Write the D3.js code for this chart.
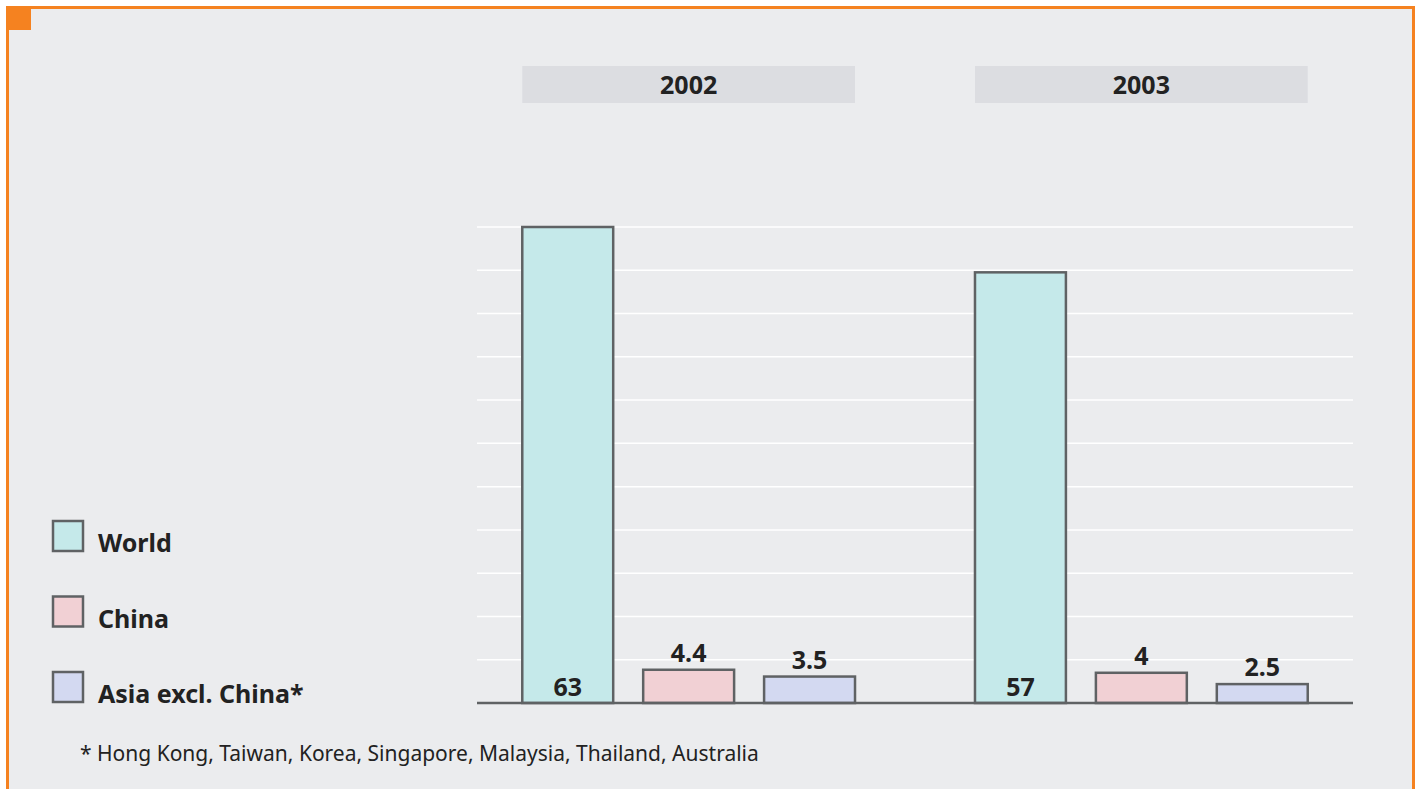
<!DOCTYPE html>
<html>
<head>
<meta charset="utf-8">
<title>World, China, Asia</title>
<script src="https://cdn.jsdelivr.net/npm/d3@7"></script>
<style>
    body { margin: 0; background: #ffffff; font-family: "Noto Sans", sans-serif; }
    .label { font-size: 25px; font-weight: bold; fill: #222222; }
    .note { font-size: 21px; fill: #222222; }
</style>
</head>
<body>
<div id="chart"></div>
<script>
var years = ['2002', '2003'];
var series = ['World', 'China', 'Asia excl. China*'];
var world = [63, 57];
var china = [4.4, 4];
var asia = [3.5, 2.5];
var footnote = '* Hong Kong, Taiwan, Korea, Singapore, Malaysia, Thailand, Australia';

var colors = {'World': '#c5e9ea', 'China': '#f1d0d4', 'Asia excl. China*': '#d3d9f1'};
var width = 1422, height = 789;

var rows = [];
years.forEach(function(y, i) {
    rows.push({year: y, key: 'World', value: world[i]});
    rows.push({year: y, key: 'China', value: china[i]});
    rows.push({year: y, key: 'Asia excl. China*', value: asia[i]});
});

var svg = d3.select('#chart').append('svg')
    .attr('width', width).attr('height', height);

// panel + orange frame (open at the bottom)
svg.append('rect').attr('x', 7).attr('y', 7).attr('width', 1407).attr('height', height)
    .attr('fill', '#ebecee');
svg.append('path')
    .attr('d', 'M7.5,' + height + 'V7.5H1413.5V' + height)
    .attr('fill', 'none').attr('stroke', '#f58220').attr('stroke-width', 3);
svg.append('rect').attr('x', 6).attr('y', 6).attr('width', 25).attr('height', 24)
    .attr('fill', '#f58220');

var x0 = d3.scaleBand().domain(years).range([477, 1353])
    .paddingInner(0.265).paddingOuter(0.1);
var x1 = d3.scaleBand().domain(series).range([0, x0.bandwidth()])
    .paddingInner(0.248);
var y = d3.scaleLinear().domain([0, 63]).range([703, 227]);

// gridlines
var gridCount = 11;
svg.append('g').selectAll('line')
    .data(d3.range(1, gridCount + 1))
    .enter().append('line')
    .attr('x1', 477).attr('x2', 1353)
    .attr('y1', function(d) { return y(63 * d / gridCount); })
    .attr('y2', function(d) { return y(63 * d / gridCount); })
    .attr('stroke', '#ffffff').attr('stroke-width', 1.5);

// year headers
var head = svg.append('g').selectAll('g').data(years).enter().append('g');
head.append('rect')
    .attr('x', function(d) { return x0(d); })
    .attr('y', 66).attr('width', x0.bandwidth()).attr('height', 37)
    .attr('fill', '#dcdde1');
head.append('text').attr('class', 'label')
    .attr('x', function(d) { return x0(d) + x0.bandwidth() / 2; })
    .attr('y', 94).attr('text-anchor', 'middle')
    .text(function(d) { return d; });

// bars
svg.append('g').selectAll('rect').data(rows).enter().append('rect')
    .attr('x', function(d) { return x0(d.year) + x1(d.key); })
    .attr('y', function(d) { return y(d.value); })
    .attr('width', x1.bandwidth())
    .attr('height', function(d) { return y(0) - y(d.value); })
    .attr('fill', function(d) { return colors[d.key]; })
    .attr('stroke', '#5f6264').attr('stroke-width', 2.5);

svg.append('g').selectAll('text').data(rows).enter().append('text')
    .attr('class', 'label').attr('text-anchor', 'middle')
    .attr('x', function(d) { return x0(d.year) + x1(d.key) + x1.bandwidth() / 2; })
    .attr('y', function(d) { return d.key == 'World' ? y(0) - 7 : y(d.value) - 8; })
    .text(function(d) { return d.value; });

// baseline
svg.append('line').attr('x1', 477).attr('x2', 1353)
    .attr('y1', y(0)).attr('y2', y(0))
    .attr('stroke', '#5f6264').attr('stroke-width', 2.5);

// legend
var legend = svg.append('g').selectAll('g').data(series).enter().append('g')
    .attr('transform', function(d, i) { return 'translate(53,' + (521 + i * 75.5) + ')'; });
legend.append('rect').attr('width', 30).attr('height', 30)
    .attr('fill', function(d) { return colors[d]; })
    .attr('stroke', '#5f6264').attr('stroke-width', 2.5);
legend.append('text').attr('class', 'label')
    .attr('x', 45).attr('y', 31)
    .text(function(d) { return d; });

svg.append('text').attr('class', 'note')
    .attr('x', 80).attr('y', 761)
    .text(footnote);
</script>
</body>
</html>
